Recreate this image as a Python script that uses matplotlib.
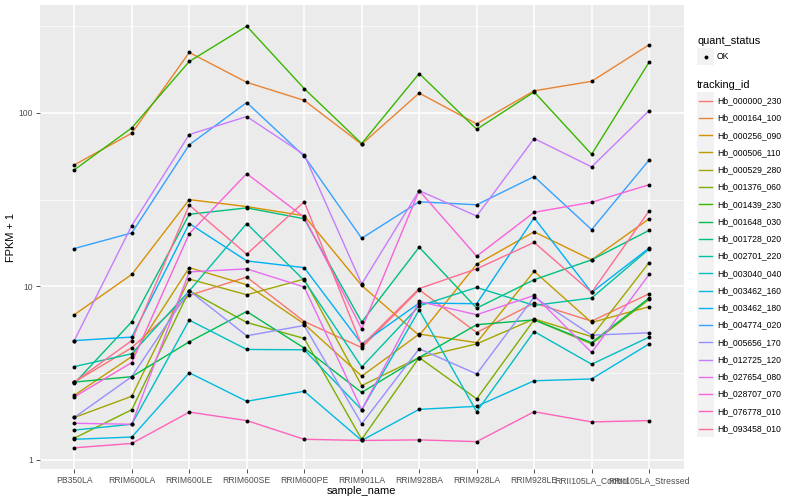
import matplotlib
matplotlib.use('Agg')
import matplotlib.pyplot as plt
import numpy as np
from matplotlib.patches import Rectangle
from matplotlib.ticker import NullFormatter

plt.rcParams['font.family'] = ['Liberation Sans', 'DejaVu Sans']

# samples on the x axis
samples = ['PB350LA', 'RRIM600LA', 'RRIM600LE', 'RRIM600SE', 'RRIM600PE', 'RRIM901LA',
           'RRIM928BA', 'RRIM928LA', 'RRIM928LE', 'RRII105LA_Control', 'RRII105LA_Stressed']

tracking_ids = ['Hb_000000_230', 'Hb_000164_100', 'Hb_000256_090', 'Hb_000506_110', 'Hb_000529_280',
                'Hb_001376_060', 'Hb_001439_230', 'Hb_001648_030', 'Hb_001728_020', 'Hb_002701_220',
                'Hb_003040_040', 'Hb_003462_160', 'Hb_003462_180', 'Hb_004774_020', 'Hb_005656_170',
                'Hb_012725_120', 'Hb_027654_080', 'Hb_028707_070', 'Hb_076778_010', 'Hb_093458_010']

# ggplot default hue palette for 20 levels
colors = ['#F8766D', '#EA8331', '#D89000', '#C09B00', '#A3A500', '#7CAE00', '#39B600', '#00BB4E',
          '#00BF7D', '#00C1A3', '#00BFC4', '#00BAE0', '#00B0F6', '#35A2FF', '#9590FF', '#C77CFF',
          '#E76BF3', '#FA62DB', '#FF62BC', '#FF6C91']

# FPKM + 1 per gene, one value per sample
hb_000000_230 = [2.8, 4.42, 8.85, 11.3, 6.26, 4.43, 9.55, 5.41, 8.0, 6.29, 9.05]
hb_000164_100 = [50.1, 76.3, 223, 150, 118, 65.9, 130, 86.4, 134, 152, 247]
hb_000256_090 = [6.85, 11.7, 31.6, 28.8, 25.5, 10.1, 5.2, 13.4, 20.6, 14.2, 24.5]
hb_000506_110 = [2.35, 3.93, 12.8, 10.2, 6.06, 3.03, 5.3, 4.73, 12.2, 6.18, 7.62]
hb_000529_280 = [1.75, 2.32, 11.0, 8.93, 11.0, 2.67, 3.88, 4.65, 6.48, 5.12, 13.7]
hb_001376_060 = [1.33, 1.94, 9.42, 6.18, 5.0, 1.31, 3.88, 2.24, 6.4, 4.65, 8.4]
hb_001439_230 = [46.9, 81.9, 197.8, 316, 138, 66.5, 168.6, 80.4, 132, 57.7, 196]
hb_001648_030 = [2.8, 3.01, 4.78, 7.15, 4.4, 2.44, 3.88, 6.0, 6.4, 4.73, 8.55]
hb_001728_020 = [2.75, 6.24, 26.0, 28.3, 24.5, 6.21, 16.8, 7.48, 10.9, 14.2, 21.0]
hb_002701_220 = [3.44, 4.08, 9.4, 23.0, 10.8, 3.42, 7.7, 9.84, 7.76, 8.55, 16.4]
hb_003040_040 = [1.48, 1.6, 6.38, 4.32, 4.3, 1.94, 7.3, 1.89, 5.48, 3.55, 5.09]
hb_003462_160 = [1.31, 1.35, 3.17, 2.17, 2.48, 1.29, 1.95, 2.03, 2.85, 2.92, 4.65]
hb_003462_180 = [4.86, 5.09, 23.0, 14.0, 12.8, 4.65, 8.0, 7.93, 24.8, 9.21, 16.6]
hb_004774_020 = [16.5, 20.3, 65.4, 114.7, 56.2, 18.9, 30.7, 29.5, 42.9, 21.2, 53.5]
hb_005656_170 = [1.75, 3.01, 9.42, 5.18, 5.94, 1.61, 4.36, 3.12, 8.67, 5.22, 5.39]
hb_012725_120 = [4.86, 22.4, 75, 95.2, 57.4, 10.3, 35.6, 25.4, 71.1, 48.8, 103]
hb_027654_080 = [1.62, 1.6, 12.1, 12.6, 9.9, 1.94, 8.17, 6.85, 8.85, 4.15, 11.7]
hb_028707_070 = [2.3, 3.63, 20.1, 44.6, 25.0, 5.68, 35.6, 14.9, 26.7, 30.5, 38.5]
hb_076778_010 = [1.17, 1.24, 1.88, 1.68, 1.31, 1.29, 1.3, 1.27, 1.89, 1.65, 1.68]
hb_093458_010 = [2.8, 4.86, 29.4, 15.3, 30.7, 4.55, 9.7, 12.6, 17.9, 9.21, 27.2]

series = [hb_000000_230, hb_000164_100, hb_000256_090, hb_000506_110, hb_000529_280,
          hb_001376_060, hb_001439_230, hb_001648_030, hb_001728_020, hb_002701_220,
          hb_003040_040, hb_003462_160, hb_003462_180, hb_004774_020, hb_005656_170,
          hb_012725_120, hb_027654_080, hb_028707_070, hb_076778_010, hb_093458_010]


def plot_data():
    fig = plt.figure(figsize=(8, 5), dpi=100)
    # panel placement in pixels: left 40, right 684, top 5, bottom 469
    ax = fig.add_axes([39.8 / 800, 1 - 469 / 500, (683.6 - 39.8) / 800, (469 - 5) / 500])
    ax.set_facecolor('#EBEBEB')

    x = np.arange(1, len(samples) + 1)
    for vals, col in zip(series, colors):
        ax.plot(x, vals, color=col, lw=1.0, zorder=2)
        ax.scatter(x, vals, s=8, color='black', zorder=3, linewidths=0)

    ax.set_yscale('log')
    ax.set_xlim(0.4, 11.6)
    ax.set_ylim(10 ** -0.054, 10 ** 2.622)
    ax.set_xticks(x)
    ax.set_xticklabels(samples)
    ax.set_yticks([1, 10, 100])
    ax.set_yticklabels(['1', '10', '100'])
    ax.set_yticks([10 ** 0.5, 10 ** 1.5, 10 ** 2.5], minor=True)
    ax.yaxis.set_minor_formatter(NullFormatter())
    ax.tick_params(axis='y', which='minor', length=0)
    ax.tick_params(which='major', length=3, color='#333333', width=0.6,
                   labelsize=6.2, labelcolor='#4D4D4D', pad=2)

    ax.grid(which='major', color='white', lw=1.1, zorder=0)
    ax.grid(which='minor', axis='y', color='white', lw=0.5, zorder=0)
    ax.set_axisbelow(True)
    for s in ax.spines.values():
        s.set_visible(False)

    ax.set_xlabel('sample_name', fontsize=7.9, labelpad=1)
    ax.set_ylabel('FPKM + 1', fontsize=7.9, labelpad=2)

    # legend drawn by hand in pixel space, ggplot style
    lax = fig.add_axes([0, 0, 1, 1])
    lax.set_xlim(0, 800)
    lax.set_ylim(500, 0)
    lax.axis('off')

    lax.text(697, 41, 'quant_status', fontsize=7.9, va='center', ha='left')
    lax.add_patch(Rectangle((697, 48), 17.3, 17.3, facecolor='#F2F2F2', edgecolor='none'))
    lax.scatter([705.6], [56.6], s=8, color='black', linewidths=0)
    lax.text(717, 56.6, 'OK', fontsize=6.2, va='center', ha='left')

    lax.text(697, 85, 'tracking_id', fontsize=7.9, va='center', ha='left')
    for i, (name, col) in enumerate(zip(tracking_ids, colors)):
        cy = 100.7 + 17.26 * i
        lax.add_patch(Rectangle((697, cy - 8.6), 17.3, 17.3, facecolor='#F2F2F2', edgecolor='none'))
        lax.plot([699, 712], [cy, cy], color=col, lw=1.0)
        lax.text(717, cy, name, fontsize=6.2, va='center', ha='left')

    fig.savefig('out.png', dpi=100)


if __name__ == '__main__':
    plot_data()
